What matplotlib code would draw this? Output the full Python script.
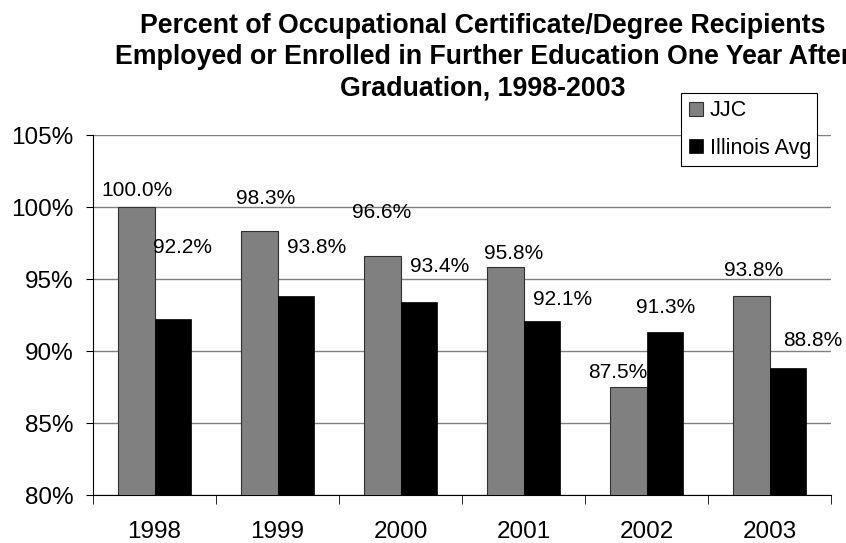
import matplotlib
matplotlib.use('Agg')
import matplotlib.pyplot as plt
import numpy as np

plt.rcParams['font.family'] = ['Liberation Sans', 'DejaVu Sans']

years = ['1998', '1999', '2000', '2001', '2002', '2003']
jjc = [100.0, 98.3, 96.6, 95.8, 87.5, 93.8]
illinois = [92.2, 93.8, 93.4, 92.1, 91.3, 88.8]
series_names = ['JJC', 'Illinois Avg']
yticks = [80, 85, 90, 95, 100, 105]

# label offsets from bar top (pixels, right / up), hand placed like the original
jjc_off = [(1, 17), (6, 33), (-1, 43), (8, 14), (-11, 15), (2, 26)]
ill_off = [(10, 72), (21, 49), (21, 36), (21, 21), (1, 25), (25, 28)]

fig = plt.figure(figsize=(8.46, 5.43), dpi=100)
ax = fig.add_axes([93 / 846, 1 - 495 / 543, (831 - 93) / 846, (495 - 135) / 543])

x = np.arange(len(years))
w = 0.295
b1 = ax.bar(x - w / 2, jjc, w, color='#808080', edgecolor='#303030', linewidth=0.8,
            label=series_names[0], zorder=3)
b2 = ax.bar(x + w / 2, illinois, w, color='black', edgecolor='black', linewidth=0.5,
            label=series_names[1], zorder=3)

ax.set_ylim(80, 105)
ax.set_xlim(-0.5, len(years) - 0.5)
ax.set_yticks(yticks)
ax.set_yticklabels([f'{t}%' for t in yticks], fontsize=17.5)
ax.yaxis.grid(True, color='#808080', linewidth=1.0, zorder=0)
ax.set_axisbelow(True)

ax.set_xticks(x)
ax.set_xticklabels(years, fontsize=17.5)
ax.set_xticks(np.arange(-0.5, len(years)), minor=True)
ax.tick_params(axis='x', which='major', length=0, pad=19)
ax.tick_params(axis='x', which='minor', length=6.5, direction='out', color='black')
ax.tick_params(axis='y', length=5, direction='out', pad=9, color='black')

for s in ['top', 'right']:
    ax.spines[s].set_visible(False)
ax.spines['left'].set_color('black')
ax.spines['bottom'].set_color('black')

for bars, vals, offs in [(b1, jjc, jjc_off), (b2, illinois, ill_off)]:
    for bar, v, (dx, dy) in zip(bars, vals, offs):
        ax.annotate(f'{v:.1f}%', xy=(bar.get_x() + bar.get_width() / 2, v),
                    xytext=(dx * 0.72, dy * 0.72), textcoords='offset points',
                    ha='center', va='center', fontsize=15, zorder=5)

fig.text(483 / 846, 1 - 57 / 543,
         'Percent of Occupational Certificate/Degree Recipients\n'
         'Employed or Enrolled in Further Education One Year After\n'
         'Graduation, 1998-2003',
         ha='center', va='center', fontsize=19.3, fontweight='bold', linespacing=1.25)

leg = ax.legend(loc='center left', bbox_to_anchor=(681 / 846, 1 - 167 / 543, 136 / 846, 75 / 543),
                bbox_transform=fig.transFigure, mode='expand', fontsize=15.5, frameon=True,
                fancybox=False, edgecolor='black', handlelength=0.65, handleheight=0.65,
                handletextpad=0.35, borderpad=0.35, labelspacing=0.75, borderaxespad=0,
                framealpha=1)
leg.get_frame().set_linewidth(0.8)
leg.set_zorder(6)

fig.savefig('out.png', dpi=100)
